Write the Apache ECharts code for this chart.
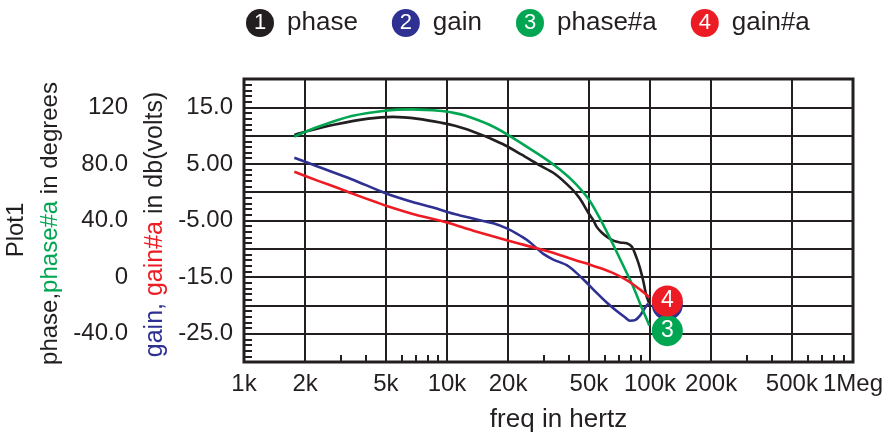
<!DOCTYPE html>
<html>
<head>
<meta charset="utf-8">
<script src="https://cdn.jsdelivr.net/npm/echarts@6/dist/echarts.min.js"></script>
<style>
html,body{margin:0;padding:0;background:#fff}
#chart{width:890px;height:438px}
</style>
</head>
<body>
<div id="chart"></div>
<script>
// AC sweep: phase (deg) and gain (dB) for the nominal run and run "a"
const phaseFreq = [1770, 2000, 2810, 4100, 5420, 7220, 9420, 10950, 12270, 14830, 15970, 19310, 23340, 28170, 34040, 41150, 45200, 49660, 52600, 54640, 57810, 61190, 65950, 71150, 76770, 81260, 86000, 89250, 92700, 95600, 98100, 99200];
const phaseDeg  = [100.5, 102.7, 107.8, 112.0, 113.2, 111.8, 109.0, 106.9, 104.8, 100.5, 98.6, 93.2, 86.5, 79.5, 72.9, 62.4, 55.4, 45.5, 40.2, 35.5, 31.5, 28.6, 25.8, 24.5, 23.9, 21.6, 13.4, 6.4, -2.9, -12.2, -16.9, -18.5];

const gainFreq = [1770, 2320, 3390, 4950, 6700, 8900, 10000, 11590, 14540, 16910, 19700, 22040, 24700, 27670, 29820, 33390, 38880, 43550, 48770, 54640, 61190, 68550, 75300, 79700, 84400, 89250, 94500, 98100];
const gainDb   = [6.1, 4.5, 2.3, -0.15, -1.7, -2.9, -3.5, -4.1, -4.95, -5.5, -6.4, -7.3, -8.4, -9.9, -10.9, -11.9, -12.9, -14.3, -16.0, -17.8, -19.5, -21.0, -22.1, -22.7, -22.6, -21.8, -20.4, -19.7];

const phaseAFreq = [1770, 2320, 3390, 4950, 6700, 9420, 10950, 12270, 15970, 20040, 28170, 34040, 41150, 49660, 56700, 63530, 73870, 82750, 91000, 98100, 99200];
const phaseADeg  = [99.3, 106.2, 113.8, 117.6, 118.5, 117.4, 115.9, 114.2, 108.0, 100.4, 86.9, 78.7, 68.7, 55.4, 41.4, 27.5, 8.0, -7.0, -21.5, -32.5, -34.3];

const gainAFreq = [1770, 2320, 2970, 3390, 4420, 5100, 7000, 10000, 13480, 19700, 27670, 34700, 41900, 50600, 56800, 65950, 73870, 82750, 89250, 94500, 99200];
const gainADb   = [3.6, 2.0, 0.6, -0.2, -1.7, -2.5, -4.0, -5.35, -6.8, -8.5, -9.9, -10.9, -11.9, -12.8, -13.4, -14.3, -15.2, -16.3, -17.2, -17.9, -18.6];

const seriesNames = ['phase', 'gain', 'phase#a', 'gain#a'];

// Frequency axis ticks (Hz)
const freqTickValues = [1e3, 2e3, 5e3, 1e4, 2e4, 5e4, 1e5, 2e5, 5e5, 1e6];
const freqTickLabels = ['1k', '2k', '5k', '10k', '20k', '50k', '100k', '200k', '500k', '1Meg'];
const freqMinorTicks = [3e3, 4e3, 6e3, 7e3, 8e3, 9e3, 3e4, 4e4, 6e4, 7e4, 8e4, 9e4, 3e5, 4e5, 6e5, 7e5, 8e5, 9e5];

// Vertical axis labels
const phaseTickValues = [-40, 0, 40, 80, 120];
const phaseTickLabels = ['-40.0', '0', '40.0', '80.0', '120'];
const gainTickValues = [-25, -15, -5, 5, 15];
const gainTickLabels = ['-25.0', '-15.0', '-5.00', '5.00', '15.0'];

const INK = '#231f20';
const BLUE = '#2e3192';
const GREEN = '#00a651';
const RED = '#ed1c24';
const colors = [INK, BLUE, GREEN, RED];
const FONT = '"Liberation Sans", Arial, Helvetica, sans-serif';

const lg = v => Math.round(Math.log10(v) * 1e9) / 1e9;
const pairs = (fs, vs) => fs.map((f, i) => [lg(f), vs[i]]);

function labelFrom(values, labels, v) {
  for (let i = 0; i < values.length; i++) {
    if (Math.abs(values[i] - v) < 1e-6) return labels[i];
  }
  return '';
}

// One trace; the numbered badge sits just past the last sample
function lineSeries(idx, fs, vs, yAxisIndex, offset, badgeZ) {
  const data = pairs(fs, vs);
  return {
    name: seriesNames[idx],
    type: 'line',
    xAxisIndex: 0,
    yAxisIndex: yAxisIndex,
    data: data,
    symbol: 'none',
    showSymbol: false,
    smooth: 0.3,
    silent: true,
    lineStyle: { color: colors[idx], width: 2.6 },
    itemStyle: { color: colors[idx] },
    markPoint: offset ? {
      silent: true,
      animation: false,
      z: badgeZ,
      data: [{
        coord: data[data.length - 1],
        symbol: 'circle',
        symbolSize: 31,
        symbolOffset: offset,
        itemStyle: { color: colors[idx] },
        label: {
          show: true, position: 'inside', formatter: String(idx + 1),
          color: '#fff', fontSize: 23, fontFamily: FONT
        }
      }]
    } : undefined
  };
}

const legendRich = { t: { fontSize: 26, color: INK, fontFamily: FONT, padding: [0, 0, 0, 13] } };
colors.forEach((c, i) => {
  legendRich['c' + i] = {
    width: 28, height: 28, lineHeight: 28, borderRadius: 14,
    backgroundColor: c, color: '#fff', align: 'center',
    fontSize: 22, fontFamily: FONT
  };
});

const gridLine = { color: INK, width: 2 };

const chart = echarts.init(document.getElementById('chart'), null, { renderer: 'canvas' });
chart.setOption({
  animation: false,
  backgroundColor: '#fff',
  textStyle: { fontFamily: FONT },
  legend: {
    left: 236, top: 4,
    icon: 'circle', itemWidth: 0, itemHeight: 0, itemGap: 29,
    selectedMode: false,
    data: seriesNames,
    formatter: name => {
      const i = seriesNames.indexOf(name);
      return '{c' + i + '|' + (i + 1) + '}{t|' + name + '}';
    },
    textStyle: { rich: legendRich }
  },
  grid: {
    left: 244, right: 37, top: 79, bottom: 73,
    show: true, borderColor: INK, borderWidth: 3, backgroundColor: '#fff'
  },
  graphic: [{
    type: 'text', x: 16, y: 230, rotation: Math.PI / 2, silent: true,
    style: {
      text: 'Plot1', fill: INK, font: '24px ' + FONT,
      align: 'center', verticalAlign: 'middle',
      textAlign: 'center', textVerticalAlign: 'middle'
    }
  }],
  xAxis: [{
    type: 'value', min: 3, max: 6, position: 'bottom',
    axisLine: { show: false, onZero: false },
    axisTick: { show: false, customValues: freqTickValues.map(lg) },
    axisLabel: {
      customValues: freqTickValues.map(lg),
      formatter: v => labelFrom(freqTickValues.map(lg), freqTickLabels, v),
      margin: 10, color: INK, fontSize: 24, fontFamily: FONT
    },
    splitLine: { show: true, lineStyle: gridLine },
    name: 'freq in hertz', nameLocation: 'middle', nameGap: 45,
    nameTextStyle: { color: INK, fontSize: 26, fontFamily: FONT, padding: [0, 0, 0, 20] }
  }, {
    type: 'value', min: 3, max: 6, position: 'bottom',
    axisLine: { show: false, onZero: false },
    axisLabel: { show: false },
    splitLine: { show: false },
    axisTick: {
      show: true, inside: true, length: 7,
      customValues: freqMinorTicks.map(lg),
      lineStyle: { color: INK, width: 2 }
    }
  }],
  yAxis: [{
    type: 'value', position: 'left', offset: 108,
    min: -60, max: 140, interval: 20,
    axisLine: { show: false, onZero: false }, axisTick: { show: false }, splitLine: { show: false },
    axisLabel: {
      formatter: v => labelFrom(phaseTickValues, phaseTickLabels, v),
      margin: 8, color: INK, fontSize: 24, fontFamily: FONT
    },
    name: '{k|phase,}{g|phase#a}{k| in degrees}',
    nameLocation: 'middle', nameGap: 74, nameRotate: 90,
    nameTextStyle: {
      fontSize: 24, fontFamily: FONT, padding: [0, 6, 0, 0],
      rich: {
        k: { color: INK, fontSize: 24, fontFamily: FONT },
        g: { color: GREEN, fontSize: 24, fontFamily: FONT }
      }
    }
  }, {
    type: 'value', position: 'left', offset: 0,
    min: -30, max: 20, interval: 5,
    axisLine: { show: false, onZero: false },
    axisTick: { show: true, inside: true, length: 8, lineStyle: { color: INK, width: 2 } },
    minorTick: { show: true, splitNumber: 5, length: 8, lineStyle: { color: INK, width: 2 } },
    splitLine: { show: true, lineStyle: gridLine },
    axisLabel: {
      formatter: v => labelFrom(gainTickValues, gainTickLabels, v),
      margin: 11, color: INK, fontSize: 24, fontFamily: FONT
    },
    name: '{b|gain,} {r|gain#a}{k| in db(volts)}',
    nameLocation: 'middle', nameGap: 76, nameRotate: 90,
    nameTextStyle: {
      fontSize: 25, fontFamily: FONT, padding: [0, 8, 0, 0],
      rich: {
        k: { color: INK, fontSize: 25, fontFamily: FONT },
        b: { color: BLUE, fontSize: 25, fontFamily: FONT },
        r: { color: RED, fontSize: 25, fontFamily: FONT }
      }
    }
  }],
  series: [
    lineSeries(0, phaseFreq, phaseDeg, 0, null, 0),
    lineSeries(1, gainFreq, gainDb, 1, [19, 1], 4),
    lineSeries(2, phaseAFreq, phaseADeg, 0, [18, 5], 5),
    lineSeries(3, gainAFreq, gainADb, 1, [18, 3.5], 6)
  ]
});
</script>
</body>
</html>
